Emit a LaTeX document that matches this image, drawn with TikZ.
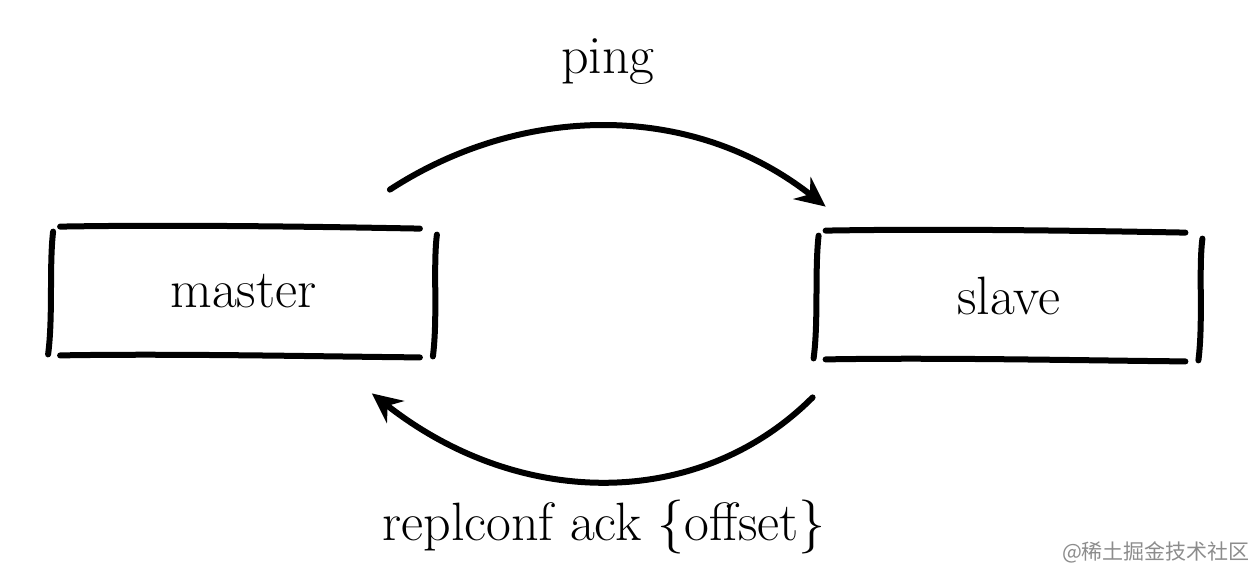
\documentclass[tikz,border=0pt]{standalone}
\usepackage{fontspec}
\newfontfamily\cjkfont{Noto Sans CJK SC}
\usetikzlibrary{arrows.meta,positioning}

\tikzset{
  stroke/.style={line width=3pt,line cap=round},
  flow/.style={stroke,-{Stealth[length=15pt,width=14pt,inset=5pt]}},
  lbl/.style={font=\fontsize{27}{32}\selectfont},
  boxnode/.style={lbl,minimum width=191pt,minimum height=64.5pt,inner sep=0pt},
}
% hand drawn box around a node
\newcommand\handbox[1]{%
  \draw[stroke] ([shift={(8,0)}]#1.north west) .. controls ([shift={(120,-2)}]#1.north west) and ([shift={(-120,0)}]#1.north east) .. ([shift={(-15,2)}]#1.north east);
  \draw[stroke] ([shift={(8,-1)}]#1.south west) .. controls ([shift={(120,-3)}]#1.south west) and ([shift={(-120,0)}]#1.south east) .. ([shift={(-15,1)}]#1.south east);
  \draw[stroke] ([shift={(1,5)}]#1.north west) .. controls ([shift={(-3,40)}]#1.north west) and ([shift={(1,-40)}]#1.south west) .. ([shift={(-4,-2)}]#1.south west);
  \draw[stroke] ([shift={(2,8)}]#1.north east) .. controls ([shift={(-2,40)}]#1.north east) and ([shift={(3,-40)}]#1.south east) .. ([shift={(-2,0)}]#1.south east);
}

\begin{document}
\begin{tikzpicture}[x=0.5pt,y=-0.5pt]
  \useasboundingbox (0,0) rectangle (1252,570);

  \node[boxnode] (master) at (243.5,291.5) {master\hspace{14pt}};
  \node[boxnode] (slave) at (1009,295.5) {slave\hspace{10pt}};
  \handbox{master}
  \handbox{slave}

  % arrow ends
  \coordinate (ping-a) at ([shift={(-45,-37)}]master.north east);
  \coordinate (ping-b) at ([shift={(8,-24)}]slave.north west);
  \coordinate (ack-a) at ([shift={(-5,37)}]slave.south west);
  \coordinate (ack-b) at ([shift={(-63,37)}]master.south east);

  \draw[flow] (ping-a) .. controls (520,105) and (690,100) .. (ping-b);
  \draw[flow] (ack-a) .. controls (700,510) and (520,510) .. (ack-b);

  \node[lbl] (ping) at (608,62) {ping};
  \node[lbl] (ack) at (604,527) {replconf ack \{offset\}};

  \node[font=\cjkfont\fontsize{10.5}{12}\selectfont,text=black!45] (mark) at (1156,552) {@稀土掘金技术社区};
\end{tikzpicture}
\end{document}
